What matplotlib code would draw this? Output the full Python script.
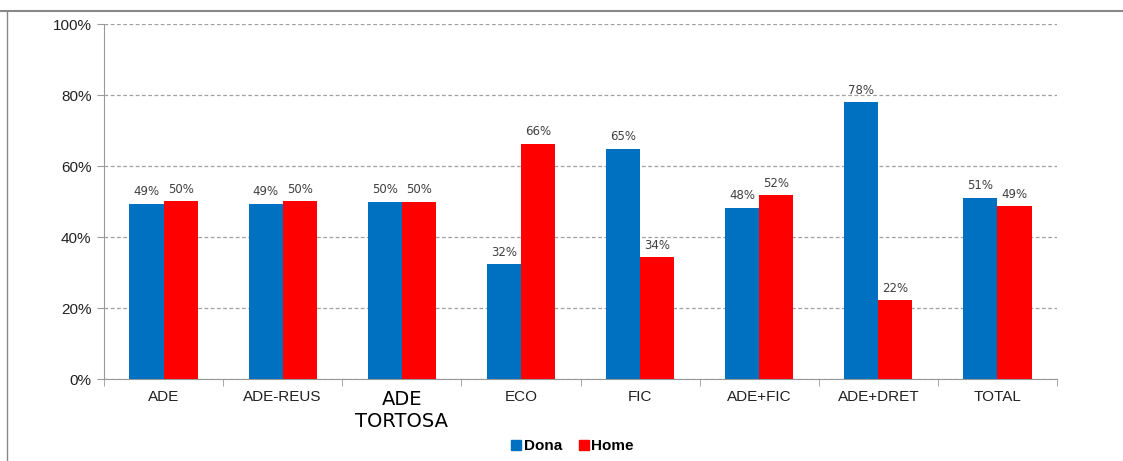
import numpy as np
import matplotlib.pyplot as plt
from matplotlib.lines import Line2D

categories = ['ADE', 'ADE-REUS', 'ADE\nTORTOSA', 'ECO', 'FIC', 'ADE+FIC', 'ADE+DRET', 'TOTAL']
dona = [49.3, 49.3, 50.0, 32.3, 64.8, 48.2, 77.9, 51.1]
home = [50.1, 50.1, 50.0, 66.2, 34.3, 51.8, 22.2, 48.6]
dona_labels = ['49%', '49%', '50%', '32%', '65%', '48%', '78%', '51%']
home_labels = ['50%', '50%', '50%', '66%', '34%', '52%', '22%', '49%']

fig = plt.figure(figsize=(11.23, 4.61), dpi=100)
ax = fig.add_axes([104 / 1123, 1 - 379 / 461, (1057 - 104) / 1123, (379 - 24) / 461])

x = np.arange(len(categories))
w = 0.286
b1 = ax.bar(x - w / 2, dona, w, color='#0070C0', label='Dona', zorder=3)
b2 = ax.bar(x + w / 2, home, w, color='#FF0000', label='Home', zorder=3)

# data labels
for bars, labs in [(b1, dona_labels), (b2, home_labels)]:
    for bar, lab in zip(bars, labs):
        ax.annotate(lab, (bar.get_x() + bar.get_width() / 2, bar.get_height()),
                    xytext=(0, 4), textcoords='offset points', ha='center', va='bottom',
                    fontsize=8.5, color='#404040', family='DejaVu Sans')

ax.set_xlim(-0.5, len(categories) - 0.5)
ax.set_ylim(0, 100)
ax.set_yticks(range(0, 101, 20))
ax.set_yticklabels([f'{v}%' for v in range(0, 101, 20)], family='Liberation Sans', fontsize=11, color='#222222')
ax.yaxis.grid(True, linestyle=(0, (3, 2)), color='#a0a0a0', linewidth=0.9, zorder=0)

ax.set_xticks(x)
ax.set_xticklabels(categories, family='Liberation Sans', fontsize=11, color='#222222')
ax.get_xticklabels()[2].set_fontsize(14)
ax.get_xticklabels()[2].set_family('DejaVu Sans')
ax.get_xticklabels()[2].set_color('black')
ax.tick_params(axis='x', length=0, pad=8)
ax.set_xticks(np.arange(-0.5, len(categories)), minor=True)
ax.tick_params(axis='x', which='minor', length=5, color='#999999')
ax.tick_params(axis='y', length=5, color='#999999', pad=4)

for s in ['top', 'right']:
    ax.spines[s].set_visible(False)
for s in ['left', 'bottom']:
    ax.spines[s].set_color('#999999')

handles = [Line2D([], [], marker='s', linestyle='', color='#0070C0', markersize=7),
           Line2D([], [], marker='s', linestyle='', color='#FF0000', markersize=7)]
fig.legend(handles, ['Dona', 'Home'], loc='center', bbox_to_anchor=(572 / 1123, 1 - 446 / 461),
           ncol=2, frameon=False, prop={'family': 'Liberation Sans', 'weight': 'bold', 'size': 11},
           handletextpad=0.1, columnspacing=1.0, handlelength=0.8)

# slide frame lines
fig.add_artist(Line2D([0, 1], [1 - 11 / 461, 1 - 11 / 461], color='#888888', linewidth=1.5))
fig.add_artist(Line2D([7 / 1123, 7 / 1123], [0, 1 - 11 / 461], color='#888888', linewidth=1.0))

fig.savefig('out.png', dpi=100)
